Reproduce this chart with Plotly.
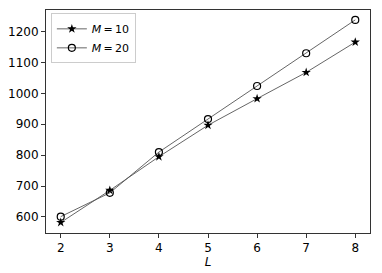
import plotly.graph_objects as go

L_values = [2, 3, 4, 5, 6, 7, 8]
m10_values = [582, 686, 795, 897, 983, 1068, 1166]
m20_values = [601, 678, 810, 917, 1024, 1130, 1238]
y_ticks = [600, 700, 800, 900, 1000, 1100, 1200]
x_ticks = [2, 3, 4, 5, 6, 7, 8]

fig = go.Figure()
fig.add_trace(go.Scatter(
    x=L_values, y=m10_values, mode="lines+markers", name="<i>M</i>\u2009=\u200910",
    line=dict(color="#555555", width=0.9),
    marker=dict(symbol="star", size=7, color="black", line=dict(width=0)),
))
fig.add_trace(go.Scatter(
    x=L_values, y=m20_values, mode="lines+markers", name="<i>M</i>\u2009=\u200920",
    line=dict(color="#555555", width=0.9),
    marker=dict(symbol="circle-open", size=7, color="black", line=dict(width=1.2)),
))

axis_common = dict(
    showgrid=False, zeroline=False, showline=True, linecolor="#333333", linewidth=1,
    mirror=True, ticks="outside", ticklen=4, tickwidth=1, tickcolor="#333333",
    tickfont=dict(family="DejaVu Sans", size=12, color="black"),
    automargin=False,
)
fig.update_xaxes(range=[1.7, 8.3], tickvals=x_ticks,
                 title=dict(text="<i>L</i>", font=dict(family="DejaVu Sans", size=12, color="black"), standoff=0),
                 **axis_common)
fig.update_yaxes(range=[548, 1270], tickvals=y_ticks, **axis_common)

fig.update_layout(
    width=382, height=273,
    margin=dict(l=46, r=12, t=10, b=40),
    paper_bgcolor="white", plot_bgcolor="white",
    font=dict(family="DejaVu Sans", size=12, color="black"),
    legend=dict(x=0.015, y=0.985, xanchor="left", yanchor="top",
                bgcolor="rgba(255,255,255,0.8)", bordercolor="#cccccc", borderwidth=1,
                font=dict(family="DejaVu Sans", size=11), tracegroupgap=0,
                itemwidth=30),
    showlegend=True,
)

fig.write_html("out.html", config={"displayModeBar": False},
               post_script="document.body.style.margin='0px';")
